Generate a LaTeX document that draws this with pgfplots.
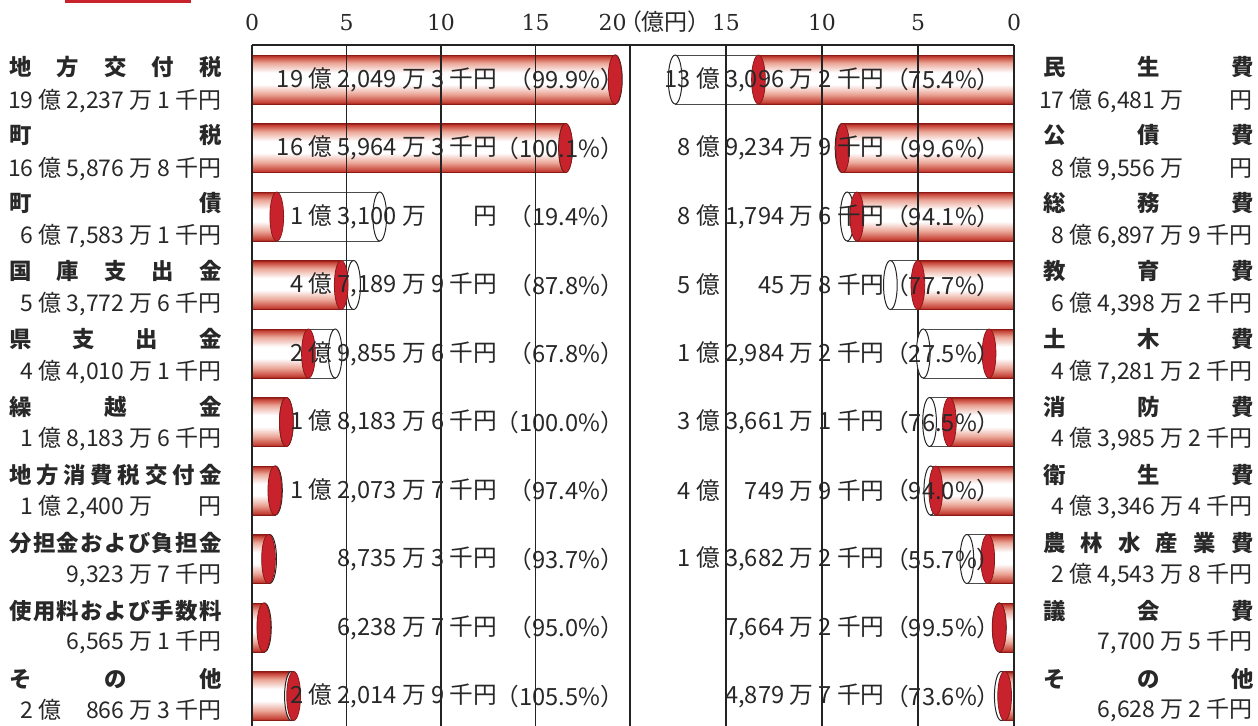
\documentclass[border=0pt]{standalone}
\usepackage{pgfplots}
\usepackage{pgfplotstable}
\pgfplotsset{compat=1.18}
\usepackage{fontspec}
\setmainfont{Noto Sans CJK JP}
\newfontfamily\cjk{Noto Sans CJK JP}
\newfontfamily\cjkp[RawFeature=+palt]{Noto Sans CJK JP}
\newfontfamily\tickfont{DejaVu Serif}

\definecolor{cred}{RGB}{200,35,45}
\definecolor{cdark}{RGB}{140,25,22}
\definecolor{cr}{RGB}{196,62,50}
\definecolor{cp}{RGB}{234,165,150}
\definecolor{gridc}{RGB}{35,35,35}
\definecolor{txt}{RGB}{40,40,40}

\pgfdeclareverticalshading{cyl}{100bp}{color(0bp)=(cdark); color(25bp)=(cdark); color(26.5bp)=(cr); color(35bp)=(cp); color(45bp)=(white); color(57bp)=(white); color(67bp)=(cp); color(73.5bp)=(cr); color(75bp)=(cdark); color(100bp)=(cdark)}

% revenue (left), in 100 million yen
\pgfplotstableread{
row budget actual
0 19.2237 19.2049
1 16.5877 16.5964
2 6.7583 1.3100
3 5.3773 4.7190
4 4.4010 2.9856
5 1.8184 1.8184
6 1.2400 1.2074
7 0.9324 0.8735
8 0.6565 0.6239
9 2.0866 2.2015
}\lefttab

% expenditure (right)
\pgfplotstableread{
row budget actual
0 17.6481 13.3096
1 8.9556 8.9235
2 8.6898 8.1795
3 6.4398 5.0046
4 4.7281 1.2984
5 4.3985 3.3661
6 4.3346 4.0750
7 2.4544 1.3682
8 0.7701 0.7664
9 0.6628 0.4880
}\righttab

\tikzset{
  amt/.style={anchor=east, inner sep=0pt, text=txt, font=\fontsize{11.85}{12}\selectfont},
  lab1/.style={inner sep=0pt, text=txt, font=\bfseries\fontsize{11.2}{12}\selectfont},
  lab2/.style={inner sep=0pt, text=txt, font=\fontsize{11.5}{12}\selectfont},
}
\newcommand{\LL}[3]{%
  \node[lab1, anchor=east, xshift=-15pt, yshift=6.0pt+0.275pt*#1] at (axis cs:0,#1) {\makebox[106pt][s]{#2}};
  \node[lab2, anchor=east, xshift=-15pt, yshift=-10.75pt+0.415pt*#1] at (axis cs:0,#1) {#3};}
\newcommand{\RL}[3]{%
  \node[lab1, anchor=west, xshift=14.5pt, yshift=6.0pt+0.275pt*#1] at (axis cs:0,#1) {\makebox[105pt][s]{#2}};
  \node[lab2, anchor=east, xshift=119.5pt, yshift=-10.75pt+0.415pt*#1] at (axis cs:0,#1) {#3};}
\newcommand{\LB}[3]{%
  \node[amt] at (axis cs:12.98,#1) {#2};
  \node[amt] at (axis cs:19.69,#1) {#3};}
\newcommand{\RB}[3]{%
  \node[amt] at (axis cs:6.72,#1) {#2};
  \node[amt] at (axis cs:0.68,#1) {#3};}

\pgfplotsset{
  geom/.style={
    scale only axis, height=340.5pt,
    ymin=-0.504, ymax=9.438, y dir=reverse,
    xmin=0, xmax=20, clip=false,
  },
  cylax/.style={
    geom, ytick=\empty,
    xtick={0,5,10,15},
    axis on top,
    axis x line*=top,
    major tick length=0pt,
    xmajorgrids,
    grid style={gridc, line width=0.75pt},
    x axis line style={gridc, line width=1.1pt},
    y axis line style={gridc, line width=0.75pt},
    /pgf/number format/assume math mode=true,
    tick label style={font=\tickfont\fontsize{11}{12}\selectfont, text=txt},
    xticklabel style={anchor=base, inner sep=0pt, yshift=7.4pt},
  },
  ovl/.style={geom, hide axis},
  budg/.style={xbar, bar shift=0pt, bar width=24.5pt, fill=white, draw=black!70, line width=0.5pt, forget plot},
  budgcap/.style={only marks, mark=*, mark size=12.25pt, mark options={xscale=0.28, fill=white, draw=black!85, line width=0.5pt}, forget plot},
  act/.style={xbar, bar shift=0pt, bar width=24.5pt, shade, shading=cyl, draw=cdark, line width=0.4pt, forget plot},
  actcap/.style={only marks, mark=*, mark size=12.25pt, mark options={xscale=0.28, fill=cred, draw=cdark, line width=0.4pt}, forget plot},
}

\begin{document}
\begin{tikzpicture}
\useasboundingbox (0,0) rectangle (629pt,363pt);
\fill[cred] (32.5pt,363pt) rectangle (95.3pt,361.6pt);

% ---------- left: revenue ----------
\begin{axis}[cylax, at={(126pt,0pt)}, anchor=south west, width=189pt,
  axis y line*=left,
  extra x ticks={20}, extra x tick labels={},
  extra x tick style={grid=major, major grid style={gridc, line width=1.3pt}},
]
\addplot[budg] table[x=budget,y=row]{\lefttab};
\addplot[budgcap] table[x=budget,y=row]{\lefttab};
\pgfplotsinvokeforeach{0,...,9}{
  \addplot[act, restrict y to domain=#1:#1] table[x=actual,y=row]{\lefttab};
}
\addplot[actcap] table[x=actual,y=row]{\lefttab};
\end{axis}

% ---------- right: expenditure ----------
\begin{axis}[cylax, at={(315pt,0pt)}, anchor=south west, width=192pt,
  x dir=reverse,
  axis y line*=right,
]
\addplot[budg] table[x=budget,y=row]{\righttab};
\addplot[budgcap] table[x=budget,y=row]{\righttab};
\pgfplotsinvokeforeach{0,...,9}{
  \addplot[act, restrict y to domain=#1:#1] table[x=actual,y=row]{\righttab};
}
\addplot[actcap] table[x=actual,y=row]{\righttab};
\end{axis}

% ---------- text overlays ----------
\begin{axis}[ovl, at={(126pt,0pt)}, anchor=south west, width=189pt]
\node[anchor=base east, inner sep=0pt, text=txt, xshift=-1.5pt, yshift=7.4pt] at (axis cs:20,-0.504) {\tickfont\fontsize{11}{12}\selectfont 20};
\node[anchor=base west, inner sep=0pt, text=txt, xshift=0pt, yshift=7.4pt] at (axis cs:20,-0.504) {\cjkp\fontsize{11.5}{12}\selectfont（億円）};

\LL{0}{地\hfil 方\hfil 交\hfil 付\hfil 税}{19 億 2,237 万 1 千円}
\LL{1}{町\hfil 税}{16 億 5,876 万 8 千円}
\LL{2}{町\hfil 債}{6 億 7,583 万 1 千円}
\LL{3}{国\hfil 庫\hfil 支\hfil 出\hfil 金}{5 億 3,772 万 6 千円}
\LL{4}{県\hfil 支\hfil 出\hfil 金}{4 億 4,010 万 1 千円}
\LL{5}{繰\hfil 越\hfil 金}{1 億 8,183 万 6 千円}
\LL{6}{地\hfil 方\hfil 消\hfil 費\hfil 税\hfil 交\hfil 付\hfil 金}{1 億 2,400 万 \hphantom{0 千}円}
\LL{7}{分\hfil 担\hfil 金\hfil お\hfil よ\hfil び\hfil 負\hfil 担\hfil 金}{9,323 万 7 千円}
\LL{8}{使\hfil 用\hfil 料\hfil お\hfil よ\hfil び\hfil 手\hfil 数\hfil 料}{6,565 万 1 千円}
\LL{9}{そ\hfil の\hfil 他}{2 億 \hphantom{0,}866 万 3 千円}

\LB{0}{19 億 2,049 万 3 千円}{（99.9\%）}
\LB{1}{16 億 5,964 万 3 千円}{（100.1\%）}
\LB{2}{1 億 3,100 万 \hphantom{0 千}円}{（19.4\%）}
\LB{3}{4 億 7,189 万 9 千円}{（87.8\%）}
\LB{4}{2 億 9,855 万 6 千円}{（67.8\%）}
\LB{5}{1 億 8,183 万 6 千円}{（100.0\%）}
\LB{6}{1 億 2,073 万 7 千円}{（97.4\%）}
\LB{7}{8,735 万 3 千円}{（93.7\%）}
\LB{8}{6,238 万 7 千円}{（95.0\%）}
\LB{9}{2 億 2,014 万 9 千円}{（105.5\%）}
\end{axis}

\begin{axis}[ovl, at={(315pt,0pt)}, anchor=south west, width=192pt, x dir=reverse]
\RL{0}{民\hfil 生\hfil 費}{17 億 6,481 万 \hphantom{0 千}円}
\RL{1}{公\hfil 債\hfil 費}{8 億 9,556 万 \hphantom{0 千}円}
\RL{2}{総\hfil 務\hfil 費}{8 億 6,897 万 9 千円}
\RL{3}{教\hfil 育\hfil 費}{6 億 4,398 万 2 千円}
\RL{4}{土\hfil 木\hfil 費}{4 億 7,281 万 2 千円}
\RL{5}{消\hfil 防\hfil 費}{4 億 3,985 万 2 千円}
\RL{6}{衛\hfil 生\hfil 費}{4 億 3,346 万 4 千円}
\RL{7}{農\hfil 林\hfil 水\hfil 産\hfil 業\hfil 費}{2 億 4,543 万 8 千円}
\RL{8}{議\hfil 会\hfil 費}{7,700 万 5 千円}
\RL{9}{そ\hfil の\hfil 他}{6,628 万 2 千円}

\RB{0}{13 億 3,096 万 2 千円}{（75.4\%）}
\RB{1}{8 億 9,234 万 9 千円}{（99.6\%）}
\RB{2}{8 億 1,794 万 6 千円}{（94.1\%）}
\RB{3}{5 億 \hphantom{0,0}45 万 8 千円}{（77.7\%）}
\RB{4}{1 億 2,984 万 2 千円}{（27.5\%）}
\RB{5}{3 億 3,661 万 1 千円}{（76.5\%）}
\RB{6}{4 億 \hphantom{0,}749 万 9 千円}{（94.0\%）}
\RB{7}{1 億 3,682 万 2 千円}{（55.7\%）}
\RB{8}{7,664 万 2 千円}{（99.5\%）}
\RB{9}{4,879 万 7 千円}{（73.6\%）}
\end{axis}
\end{tikzpicture}
\end{document}
